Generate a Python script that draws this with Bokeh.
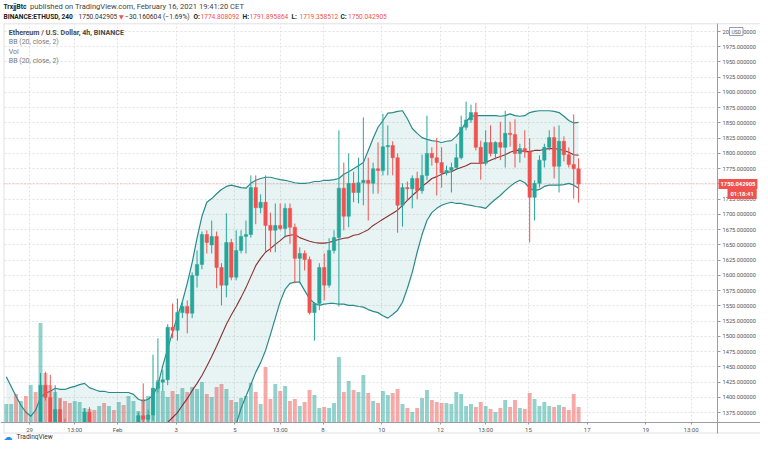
import pandas as pd
from bokeh.plotting import figure
from bokeh.models import (ColumnDataSource, Range1d, FixedTicker, NumeralTickFormatter,
                          Span, Label, BoxAnnotation)
from bokeh.embed import file_html
from bokeh.resources import INLINE

# ---------------- data (4h candles, CET) ----------------
first_candle = "2021-01-28 05:00"

opens = [1300, 1315, 1330, 1322, 1335, 1328, 1340, 1336, 1420, 1400,
         1352, 1380, 1358, 1340, 1330, 1342, 1348, 1376, 1353, 1330,
         1338, 1326, 1335, 1328, 1337, 1332, 1340, 1345, 1370, 1364,
         1371, 1415, 1425, 1429, 1515, 1510, 1539, 1549, 1538, 1600,
         1618, 1667, 1650, 1664, 1613, 1584, 1654, 1597, 1641, 1664,
         1667, 1744, 1711, 1720, 1682, 1674, 1682, 1677, 1710, 1679,
         1628, 1636, 1626, 1539, 1554, 1613, 1584, 1641, 1662, 1743,
         1697, 1751, 1736, 1752, 1756, 1751, 1775, 1772, 1811, 1813,
         1793, 1715, 1744, 1742, 1759, 1739, 1764, 1800, 1793, 1785,
         1768, 1772, 1777, 1793, 1843, 1855, 1867, 1810, 1784, 1818,
         1800, 1818, 1810, 1833, 1831, 1800, 1808, 1803, 1728, 1751,
         1789, 1810, 1826, 1779, 1820, 1798, 1782, 1774.808092]

highs = [1320, 1335, 1345, 1340, 1348, 1345, 1352, 1440, 1442, 1437,
         1420, 1398, 1365, 1350, 1348, 1352, 1382, 1384, 1358, 1345,
         1350, 1340, 1348, 1342, 1350, 1345, 1352, 1375, 1423, 1380,
         1470, 1497, 1445, 1520, 1554, 1562, 1560, 1559, 1605, 1641,
         1672, 1674, 1690, 1672, 1620, 1702, 1660, 1674, 1674, 1690,
         1764, 1764, 1733, 1764, 1703, 1718, 1718, 1718, 1718, 1685,
         1646, 1641, 1631, 1556, 1620, 1636, 1661, 1674, 1838, 1785,
         1800, 1770, 1793, 1859, 1793, 1785, 1818, 1865, 1846, 1820,
         1800, 1751, 1754, 1764, 1770, 1798, 1862, 1810, 1825, 1810,
         1780, 1785, 1816, 1862, 1885, 1880, 1883, 1821, 1838, 1846,
         1820, 1852, 1870, 1852, 1856, 1816, 1838, 1825, 1756, 1797,
         1816, 1838, 1844, 1846, 1828, 1810, 1864, 1791.895864]

lows = [1290, 1305, 1315, 1310, 1320, 1318, 1325, 1330, 1395, 1345,
        1345, 1340, 1330, 1320, 1322, 1330, 1340, 1348, 1325, 1318,
        1322, 1310, 1320, 1315, 1325, 1318, 1328, 1338, 1350, 1352,
        1362, 1408, 1410, 1420, 1497, 1493, 1530, 1505, 1530, 1580,
        1610, 1636, 1636, 1579, 1551, 1564, 1592, 1592, 1636, 1636,
        1662, 1684, 1702, 1639, 1638, 1638, 1674, 1662, 1652, 1587,
        1587, 1608, 1536, 1493, 1543, 1559, 1580, 1636, 1549, 1674,
        1679, 1720, 1718, 1715, 1690, 1734, 1734, 1764, 1764, 1764,
        1670, 1680, 1723, 1710, 1725, 1734, 1756, 1780, 1731, 1744,
        1764, 1736, 1774, 1790, 1838, 1850, 1805, 1757, 1780, 1795,
        1790, 1789, 1777, 1811, 1777, 1785, 1793, 1654, 1690, 1744,
        1777, 1805, 1759, 1736, 1787, 1777, 1726, 1719.358512]

closes = [1315, 1330, 1322, 1335, 1328, 1340, 1336, 1420, 1400, 1352,
          1380, 1358, 1340, 1330, 1342, 1348, 1376, 1353, 1330, 1338,
          1326, 1335, 1328, 1337, 1332, 1340, 1345, 1370, 1364, 1371,
          1415, 1425, 1429, 1515, 1510, 1539, 1549, 1538, 1600, 1618,
          1667, 1654, 1664, 1613, 1584, 1654, 1597, 1641, 1664, 1667,
          1744, 1711, 1720, 1682, 1674, 1682, 1677, 1710, 1679, 1628,
          1636, 1626, 1539, 1554, 1613, 1584, 1641, 1662, 1743, 1697,
          1751, 1736, 1752, 1756, 1751, 1775, 1772, 1811, 1813, 1793,
          1715, 1744, 1742, 1759, 1739, 1764, 1800, 1793, 1785, 1768,
          1772, 1777, 1793, 1843, 1855, 1867, 1810, 1784, 1818, 1800,
          1818, 1810, 1833, 1831, 1800, 1808, 1803, 1728, 1751, 1789,
          1810, 1826, 1779, 1820, 1798, 1782, 1774.808092, 1750.042905]

volumes = [18, 18, 28, 21, 26, 37, 30, 99, 49, 37,
           30, 24, 21, 19, 21, 20, 14, 13, 12, 16,
           19, 16, 12, 20, 17, 26, 21, 11, 23, 26,
           34, 42, 31, 25, 31, 28, 34, 30, 35, 33,
           40, 28, 25, 35, 38, 33, 22, 20, 24, 26,
           39, 30, 18, 55, 23, 38, 31, 36, 21, 23,
           16, 20, 32, 27, 14, 15, 14, 19, 65, 30,
           41, 32, 30, 47, 29, 21, 19, 31, 27, 29,
           33, 18, 14, 10, 14, 24, 32, 22, 20, 19,
           19, 18, 30, 28, 16, 18, 15, 20, 16, 13,
           10, 14, 22, 15, 22, 14, 13, 29, 23, 16,
           20, 16, 15, 17, 15, 12, 28, 15]

bb_upper = [1434, 1418, 1402, 1387, 1376, 1369, 1379, 1400, 1407, 1410,
            1415, 1413, 1413, 1416, 1418, 1421, 1423, 1416, 1413, 1410,
            1410, 1408, 1408, 1408, 1408, 1408, 1405, 1397, 1394, 1397,
            1403, 1420, 1452, 1480, 1507, 1533, 1557, 1587, 1621, 1661,
            1697, 1720, 1726, 1734, 1741, 1746, 1748, 1746, 1744, 1743,
            1751, 1756, 1759, 1761, 1761, 1759, 1757, 1756, 1754, 1752,
            1751, 1751, 1752, 1754, 1754, 1756, 1756, 1757, 1759, 1766,
            1770, 1775, 1780, 1785, 1805, 1825, 1843, 1854, 1866, 1867,
            1869, 1870, 1857, 1841, 1833, 1826, 1823, 1821, 1820, 1818,
            1820, 1821, 1828, 1838, 1852, 1861, 1862, 1862, 1862, 1862,
            1862, 1861, 1862, 1865, 1862, 1861, 1862, 1867, 1869, 1870,
            1870, 1870, 1869, 1867, 1861, 1854, 1850, 1851]

bb_basis = [1318, 1320, 1322, 1324, 1326, 1328, 1330, 1332, 1335, 1337,
            1338, 1339, 1340, 1340, 1340, 1341, 1342, 1342, 1342, 1341,
            1340, 1340, 1339, 1339, 1338, 1338, 1338, 1339, 1340, 1342,
            1345, 1350, 1355, 1359, 1367, 1375, 1387, 1398, 1411, 1423,
            1436, 1451, 1467, 1484, 1502, 1520, 1535, 1549, 1564, 1580,
            1598, 1616, 1628, 1638, 1644, 1651, 1657, 1664, 1666, 1667,
            1662, 1659, 1656, 1654, 1653, 1653, 1654, 1657, 1659, 1661,
            1662, 1666, 1667, 1671, 1675, 1682, 1687, 1692, 1697, 1702,
            1707, 1715, 1723, 1731, 1738, 1746, 1752, 1759, 1762, 1766,
            1769, 1770, 1774, 1777, 1780, 1784, 1784, 1784, 1785, 1789,
            1792, 1795, 1798, 1802, 1805, 1805, 1803, 1803, 1805, 1805,
            1807, 1808, 1808, 1807, 1805, 1802, 1798, 1797]

bb_lower = [1202, 1222, 1242, 1261, 1276, 1287, 1281, 1264, 1263, 1264,
            1261, 1265, 1267, 1264, 1262, 1261, 1261, 1268, 1271, 1272,
            1270, 1272, 1270, 1270, 1268, 1268, 1271, 1281, 1286, 1287,
            1287, 1280, 1258, 1238, 1227, 1217, 1217, 1209, 1201, 1185,
            1175, 1182, 1208, 1234, 1263, 1294, 1322, 1356, 1382, 1402,
            1421, 1441, 1457, 1477, 1503, 1530, 1557, 1577, 1587, 1589,
            1589, 1575, 1562, 1554, 1551, 1553, 1554, 1554, 1553, 1553,
            1551, 1551, 1549, 1548, 1544, 1541, 1539, 1534, 1530, 1536,
            1543, 1556, 1579, 1605, 1638, 1667, 1690, 1703, 1710, 1715,
            1718, 1720, 1718, 1718, 1716, 1715, 1713, 1712, 1710, 1718,
            1725, 1731, 1739, 1746, 1752, 1756, 1752, 1743, 1739, 1741,
            1746, 1748, 1748, 1748, 1749, 1751, 1748, 1743]

tick_times = ["2021-01-29 00:00", "2021-01-30 13:00", "2021-02-01 00:00", "2021-02-03 00:00",
              "2021-02-05 00:00", "2021-02-06 13:00", "2021-02-08 00:00", "2021-02-10 00:00",
              "2021-02-12 00:00", "2021-02-13 13:00", "2021-02-15 00:00", "2021-02-17 00:00",
              "2021-02-19 00:00", "2021-02-20 13:00"]
tick_labels = ["29", "13:00", "Feb", "3", "5", "13:00", "8", "10", "12", "13:00",
               "15", "17", "19", "13:00"]
price_ticks = [1375, 1400, 1425, 1450, 1475, 1500, 1525, 1550, 1575, 1600, 1625, 1650,
               1675, 1700, 1725, 1750, 1775, 1800, 1825, 1850, 1875, 1900, 1925, 1950,
               1975, 2000]

last_price = 1750.042905
last_price_text = "1750.042905"
countdown_text = "01:18:41"

# ---------------- layout: canvas pixels ----------------
W, H = 760, 440
CHART_L, CHART_R = 3, 717          # chart pane, price scale to the right
CHART_T, CHART_B, FRAME_B = 23.3, 421.5, 432.5
ORIGIN = pd.Timestamp("2021-01-29 00:00")
ORIGIN_PX, PX_PER_DAY = 29.0, 29.35          # time scale
PRICE_REF, PRICE_REF_PX, PX_PER_USD = 2000.0, 31.0, 0.6098   # price scale


def t_at(px):
    return ORIGIN + pd.Timedelta(days=(px - ORIGIN_PX) / PX_PER_DAY)


def p_at(py):
    return PRICE_REF - (py - PRICE_REF_PX) / PX_PER_USD


def ms(ts):
    return ts.value / 1e6


UP, DOWN = "#26a69a", "#ef5350"
GRAYLINE = "#9a9da6"
TXT = "#4a4a4a"
FONT = "Roboto"

times = pd.date_range(first_candle, periods=len(opens), freq="4h")
colors = [UP if c >= o else DOWN for o, c in zip(opens, closes)]
body_bot = [min(o, c) for o, c in zip(opens, closes)]
body_top = [max(max(o, c), min(o, c) + 1.7) for o, c in zip(opens, closes)]

src = ColumnDataSource(dict(t=times, o=opens, h=highs, l=lows, c=closes,
                            bt=body_top, bb=body_bot, col=colors, vol=volumes,
                            up=bb_upper, mid=bb_basis, lo=bb_lower))

P_TOP, P_BOT, P_FRAME_B = p_at(CHART_T), p_at(CHART_B), p_at(FRAME_B)
p = figure(width=W, height=H, x_axis_type="datetime", y_axis_location="right",
           x_range=Range1d(ms(t_at(0)), ms(t_at(W))), y_range=Range1d(p_at(H), p_at(0)),
           toolbar_location=None, output_backend="svg", min_border=0)
p.toolbar.logo = None
# volume pane: base on the chart bottom, 1 unit per pixel
p.extra_y_ranges = {"vol": Range1d(-(H - CHART_B), CHART_B)}
p.background_fill_color = "white"
p.border_fill_color = "white"
p.outline_line_color = None

tick_ms = [pd.Timestamp(s).value / 1e6 for s in tick_times]
xax = p.xaxis[0]
xax.ticker = FixedTicker(ticks=tick_ms)
xax.major_label_overrides = dict(zip(tick_ms, tick_labels))
xax.fixed_location = P_BOT
yax = p.yaxis[0]
yax.ticker = FixedTicker(ticks=price_ticks)
yax.formatter = NumeralTickFormatter(format="0.000000")
yax.fixed_location = ms(t_at(CHART_R))
yax.bounds = (P_FRAME_B, P_TOP)
for ax in (xax, yax):
    ax.axis_line_color = GRAYLINE
    ax.major_tick_line_color = GRAYLINE
    ax.minor_tick_line_color = None
    ax.major_tick_in = 0
    ax.major_label_text_font = FONT
    ax.major_label_text_color = "#555555"
xax.major_label_text_font_size = "6px"
yax.major_label_text_font_size = "5.7px"
xax.major_tick_out = 2
xax.major_label_standoff = 2
yax.major_tick_out = 3
yax.major_label_standoff = 2
p.xgrid.ticker = xax.ticker
p.ygrid.ticker = yax.ticker
for g in (p.xgrid, p.ygrid):
    g.grid_line_color = "#e2e2e2"
    g.grid_line_dash = "2 2"
    g.grid_line_width = 1

bar_ms = 4 * 3600 * 1000
p.add_layout(Span(location=last_price, dimension="width", line_color=DOWN,
                  line_alpha=0.55, line_dash="1 2", line_width=1, level="underlay"))
# volume
p.vbar(x="t", top="vol", bottom=0, width=bar_ms * 0.8, source=src, y_range_name="vol",
       fill_color="col", line_color=None, fill_alpha=0.5)
# Bollinger bands
p.varea(x="t", y1="lo", y2="up", source=src, fill_color="#198787", fill_alpha=0.1)
p.line(x="t", y="up", source=src, line_color="#2a8a8a", line_width=1.2)
p.line(x="t", y="lo", source=src, line_color="#2a8a8a", line_width=1.2)
p.line(x="t", y="mid", source=src, line_color="#8a3030", line_width=1.1)
# candles
p.segment(x0="t", y0="l", x1="t", y1="h", source=src, line_color="col", line_width=1)
p.vbar(x="t", top="bt", bottom="bb", width=bar_ms * 0.7, source=src,
       fill_color="col", line_color="col", line_width=0.5)

# white panes outside the chart (header, time scale, price scale)
far_l, far_r = ms(t_at(-100)), ms(t_at(W + 100))
far_b, far_t = p_at(H + 100), p_at(-100)
p.quad(left=[far_l, far_l, far_l, ms(t_at(CHART_R))],
       right=[far_r, far_r, ms(t_at(CHART_L)), far_r],
       bottom=[P_TOP, far_b, far_b, far_b], top=[far_t, P_BOT, far_t, far_t],
       fill_color="white", line_color=None)

# frame lines
p.add_layout(BoxAnnotation(left=ms(t_at(CHART_L + 0.5)), right=far_r, top=P_TOP, bottom=P_FRAME_B,
                           fill_alpha=0, line_color=GRAYLINE, line_width=1))


def lab(x, py, text, size="7px", color=TXT, style="normal", font=FONT):
    # x and py are canvas pixels from the top-left corner
    p.add_layout(Label(x=x, y=H - py, x_units="screen", y_units="screen", text=text,
                       text_font=font, text_font_size=size, text_color=color,
                       text_font_style=style, text_baseline="middle", text_align="left"))


# header
y1, y2 = 6, 16
lab(3, y1, "TrxjjBtc", color="#222222", style="bold", size="6.6px")
lab(29.5, y1, "published on TradingView.com, February 16, 2021 19:41:20 CET", color="#444444", size="7.6px")
lab(3, y2, "BINANCE:ETHUSD, 240", color="#222222", style="bold", size="6.6px")
lab(78, y2, "1750.042905", color="#333333", size="6.6px")
lab(118.5, y2, "▼", color=DOWN, size="6px", font="DejaVu Sans")
lab(124.5, y2, "−30.160604 (−1.69%)", color="#333333", size="6.8px")
lab(193, y2, "O:", color="#222222", style="bold", size="6.6px")
lab(200, y2, "1774.808092", color=DOWN, size="6.6px")
lab(242, y2, "H:", color="#222222", style="bold", size="6.6px")
lab(249, y2, "1791.895864", color=DOWN, size="6.6px")
lab(291, y2, "L:", color="#222222", style="bold", size="6.6px")
lab(299, y2, "1719.358512", color=DOWN, size="6.6px")
lab(340, y2, "C:", color="#222222", style="bold", size="6.6px")
lab(347.5, y2, "1750.042905", color=DOWN, size="6.6px")

# in-chart legend
lab(8.3, 32.3, "Ethereum / U.S. Dollar, 4h, BINANCE", color="#4a4a4a", style="bold", size="7.1px")
lab(8.3, 41.7, "BB (20, close, 2)", color="#7a7a7a", size="7px")
lab(8.3, 51.0, "Vol", color="#7a7a7a", size="7px")
lab(8.3, 60.7, "BB (20, close, 2)", color="#7a7a7a", size="7px")

# price scale badges
p.add_layout(Label(x=CHART_R + 1, x_units="screen", y=last_price, text=last_price_text,
                   text_font=FONT, text_font_size="5.8px", text_color="white",
                   text_font_style="bold", text_baseline="middle", text_align="left",
                   background_fill_color=DOWN, padding=(2, 3)))
p.add_layout(Label(x=727, x_units="screen", y=p_at(193.5), text=countdown_text,
                   text_font=FONT, text_font_size="5.8px", text_color="white",
                   text_font_style="bold", text_baseline="middle", text_align="left",
                   background_fill_color=DOWN, padding=(3, 2)))
p.add_layout(Label(x=729, x_units="screen", y=2000, text="USD",
                   text_font=FONT, text_font_size="5px", text_color="#555555",
                   text_baseline="middle", text_align="left",
                   background_fill_color="white", border_line_color=GRAYLINE,
                   padding=(2, 1)))

# footer logo
lab(3, 436, "☁", color="#2a8ef0", size="9px", font="DejaVu Sans")
lab(16, 436, "TradingView", color="#333333", size="6.6px")

open("out.html", "w", encoding="utf-8").write(file_html(p, INLINE))
